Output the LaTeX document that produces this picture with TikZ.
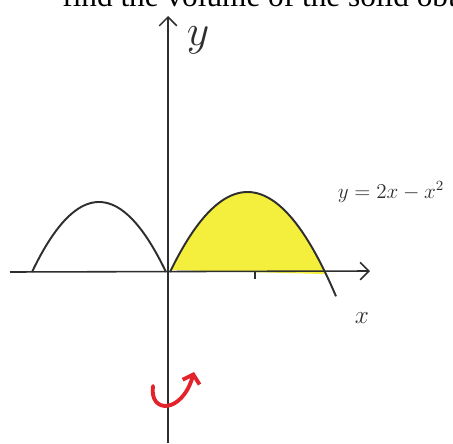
\documentclass[tikz,border=0pt]{standalone}
\usepackage{fontspec}
\setmainfont{Liberation Serif}
\usetikzlibrary{arrows.meta}
\definecolor{pencil}{HTML}{2E2E2E}
\definecolor{marker}{HTML}{F4EE3C}
\definecolor{redpen}{HTML}{E3232C}
\tikzset{axisline/.style={pencil,line width=.9pt,-{Straight Barb[length=5pt,width=10pt]}}, curveline/.style={pencil,line width=1.1pt}, markfill/.style={fill=marker,draw=none}, handnote/.style={pencil,inner sep=0pt}, spinline/.style={redpen,line width=2.2pt,line cap=round,-{Straight Barb[length=4.5pt,width=10pt]}}, tasktext/.style={anchor=base west,inner sep=0pt,font=\fontsize{17.8pt}{20pt}\selectfont}}
\begin{document}
\begin{tikzpicture}[x=0.02cm,y=-0.02cm]
\useasboundingbox (0,0) rectangle (453,443);
\clip (0,0) rectangle (453,443);
\coordinate (O) at (168,272);
\coordinate (ybot) at (168,443); \coordinate (ytop) at (168,16);
\coordinate (xleft) at (10,272); \coordinate (xright) at (370,271);
\coordinate (spinA) at (153,386); \coordinate (spinB) at (194,372);
\fill[markfill] plot[domain=171:326,samples=50] (\x,{272-80*(1-((\x-247.5)/77.5)^2)}) -- cycle;
\draw[axisline] (ybot)--(ytop);
\draw[axisline] (xleft)--(xright);
\draw[curveline] plot[domain=32:166,samples=50] (\x,{272-70*(1-((\x-99)/67)^2)});
\draw[curveline] plot[domain=170:336,samples=50] (\x,{272-80*(1-((\x-247.5)/77.5)^2)});
\draw[curveline] (255,272)--(255,279);
\draw[spinline] (spinA) .. controls (149,414) and (182,414) .. (spinB);
\node[tasktext] (task) at (62,6) {find the volume of the solid obtained};
\node[handnote,font=\fontsize{24pt}{26pt}\selectfont] (ylab) at (198,40) {$y$};
\node[handnote,font=\large] (curvelab) at (391,192) {$y=2x-x^2$};
\node[handnote,font=\Large] (xlab) at (362,318) {$x$};
\end{tikzpicture}
\end{document}
